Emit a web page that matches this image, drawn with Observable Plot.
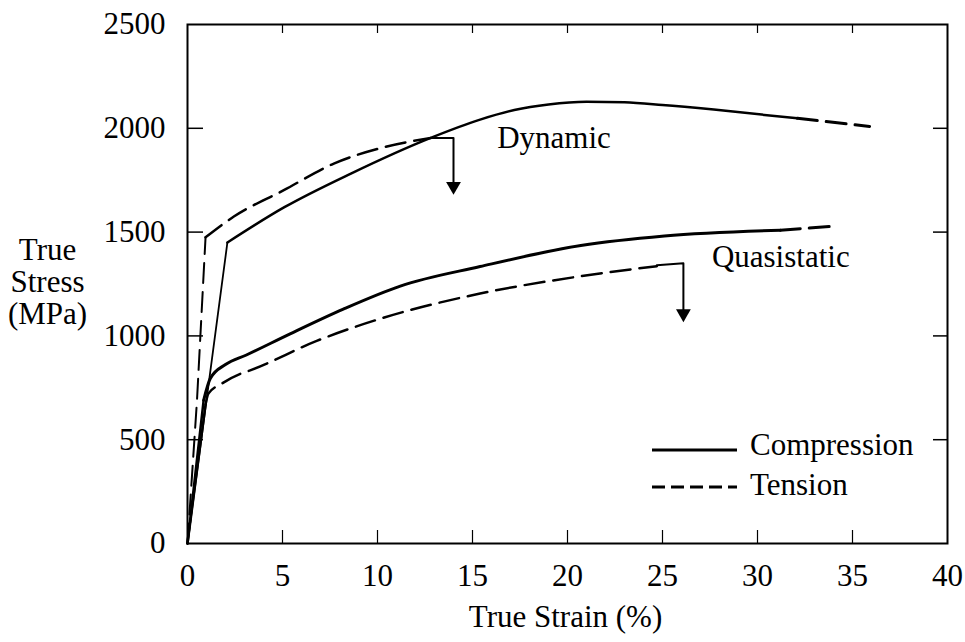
<!DOCTYPE html>
<html>
<head>
<meta charset="utf-8">
<script src="https://cdn.jsdelivr.net/npm/d3@7"></script>
<script src="https://cdn.jsdelivr.net/npm/@observablehq/plot@0.6"></script>
<style>
  html, body { margin: 0; padding: 0; background: #fff; }
  #chart svg, #chart svg text, #chart svg tspan, #chart svg g {
    font-family: "Liberation Serif", "Times New Roman", serif !important;
  }
</style>
</head>
<body>
<div id="chart"></div>
<script>
// ---- Data (True Strain %, True Stress MPa) ----
// Dynamic compression
const dynCompElasticX = [0, 2.1];
const dynCompElasticY = [0, 1450];
const dynCompX = [2.1, 5.1, 8.6, 12.8, 15.4, 17.2, 19.0, 21.0, 23.0, 25.0, 27.7, 32.1];
const dynCompY = [1450, 1620, 1782, 1954, 2042, 2088, 2115, 2128, 2125, 2112, 2090, 2048];
const dynCompExtX = [32.1, 35.9];
const dynCompExtY = [2048, 2009];
// Dynamic tension
const dynTenElasticX = [0, 0.5, 0.95];
const dynTenElasticY = [0, 690, 1475];
const dynTenX = [0.95, 2.44, 5.07, 7.7, 10.3, 12.8];
const dynTenY = [1475, 1575, 1702, 1830, 1908, 1953];
const dynArrowX = [12.8, 14.0, 14.0];
const dynArrowY = [1953, 1953, 1710];
const dynTipX = [14.0];
const dynTipY = [1682];
// Quasistatic compression
const qsCompElasticX = [0, 0.85];
const qsCompElasticY = [0, 690];
const qsCompX = [0.85, 1.2, 2.0, 3.1, 5.4, 8.2, 11.2, 15.4, 20.7, 25.1, 31.2];
const qsCompY = [690, 795, 862, 908, 1010, 1129, 1240, 1334, 1435, 1481, 1509];
const qsCompExtX = [31.2, 34.2];
const qsCompExtY = [1509, 1530];
// Quasistatic tension
const qsTenElasticX = [0, 0.95];
const qsTenElasticY = [0, 670];
const qsTenX = [0.95, 1.1, 1.8, 2.8, 3.3, 6.8, 10.3, 15.4, 20.3, 24.7];
const qsTenY = [670, 722, 770, 818, 834, 976, 1087, 1204, 1282, 1336];
const qsArrowX = [24.7, 26.1, 26.1];
const qsArrowY = [1340, 1350, 1095];
const qsTipX = [26.1];
const qsTipY = [1069];

// Annotations
const annoText = ["Dynamic", "Quasistatic"];
const annoX = [16.3, 27.6];
const annoY = [1951, 1382];

// Axes
const xTickLabels = [0, 5, 10, 15, 20, 25, 30, 35, 40];
const xInnerTicks = [5, 10, 15, 20, 25, 30, 35];
const yTickLabels = [0, 500, 1000, 1500, 2000, 2500];
const yInnerTicks = [500, 1000, 1500, 2000];
const xTitle = "True Strain (%)";
const yTitle = "True\nStress\n(MPa)";
const legendLabels = ["Compression", "Tension"];

const pts = (xs, ys) => xs.map((x, i) => ({x, y: ys[i]}));

const FONT = "Liberation Serif";
const FS = 31;
const DASH = "20,9";
const SW = 2.5;

const plot = Plot.plot({
  width: 965,
  height: 642,
  marginLeft: 187,
  marginRight: 18,
  marginTop: 24,
  marginBottom: 99,
  style: {fontFamily: FONT, fontSize: FS + "px", background: "#fff", color: "#000"},
  x: {domain: [0, 40]},
  y: {domain: [0, 2500]},
  marks: [
    Plot.frame({stroke: "#000", strokeWidth: 2}),
    // inward ticks
    Plot.axisY({anchor: "left", ticks: yInnerTicks, tickSize: -16, tickFormat: () => "", label: null, strokeWidth: 1.5}),
    Plot.axisY({anchor: "right", ticks: yInnerTicks, tickSize: -15, tickFormat: () => "", label: null, strokeWidth: 1.5}),
    Plot.axisX({anchor: "bottom", ticks: xInnerTicks, tickSize: -13, tickFormat: () => "", label: null, strokeWidth: 1.2}),
    Plot.axisX({anchor: "top", ticks: xInnerTicks, tickSize: -8, tickFormat: () => "", label: null, strokeWidth: 1.2}),
    // tick labels
    Plot.axisY({anchor: "left", ticks: yTickLabels, tickSize: 0, tickPadding: 22, label: null, fontSize: FS, fontFamily: FONT, tickFormat: d => String(d)}),
    Plot.axisX({anchor: "bottom", ticks: xTickLabels, tickSize: 0, tickPadding: 20, label: null, fontSize: FS, fontFamily: FONT, tickFormat: d => String(d)}),
    // titles
    Plot.text([xTitle], {frameAnchor: "bottom", text: d => d, dy: 74, dx: -2, fontSize: FS, fontFamily: FONT, lineAnchor: "middle"}),
    Plot.text([yTitle], {frameAnchor: "left", text: d => d, dx: -140, dy: -2, fontSize: FS, fontFamily: FONT, textAnchor: "middle", lineAnchor: "middle", lineHeight: 1.03}),

    // Dynamic compression
    Plot.line(pts(dynCompElasticX, dynCompElasticY), {x: "x", y: "y", stroke: "#000", strokeWidth: 1.8}),
    Plot.line(pts(dynCompX, dynCompY), {x: "x", y: "y", stroke: "#000", strokeWidth: SW, curve: "monotone-x"}),
    Plot.line(pts(dynCompExtX, dynCompExtY), {x: "x", y: "y", stroke: "#000", strokeWidth: 3, strokeDasharray: DASH}),
    // Dynamic tension
    Plot.line(pts(dynTenElasticX, dynTenElasticY), {x: "x", y: "y", stroke: "#000", strokeWidth: 2, strokeDasharray: DASH}),
    Plot.line(pts(dynTenX, dynTenY), {x: "x", y: "y", stroke: "#000", strokeWidth: SW, strokeDasharray: DASH, curve: "monotone-x"}),
    Plot.line(pts(dynArrowX, dynArrowY), {x: "x", y: "y", stroke: "#000", strokeWidth: 2}),
    Plot.dot(pts(dynTipX, dynTipY), {x: "x", y: "y", symbol: "triangle", r: 5.5, rotate: 180, fill: "#000", dy: -8}),
    // Quasistatic compression
    Plot.line(pts(qsCompElasticX, qsCompElasticY), {x: "x", y: "y", stroke: "#000", strokeWidth: 2.5}),
    Plot.line(pts(qsCompX, qsCompY), {x: "x", y: "y", stroke: "#000", strokeWidth: 3, curve: "monotone-x"}),
    Plot.line(pts(qsCompExtX, qsCompExtY), {x: "x", y: "y", stroke: "#000", strokeWidth: 3, strokeDasharray: DASH}),
    // Quasistatic tension
    Plot.line(pts(qsTenElasticX, qsTenElasticY), {x: "x", y: "y", stroke: "#000", strokeWidth: 2.5}),
    Plot.line(pts(qsTenX, qsTenY), {x: "x", y: "y", stroke: "#000", strokeWidth: SW, strokeDasharray: DASH, curve: "monotone-x"}),
    Plot.line(pts(qsArrowX, qsArrowY), {x: "x", y: "y", stroke: "#000", strokeWidth: 2}),
    Plot.dot(pts(qsTipX, qsTipY), {x: "x", y: "y", symbol: "triangle", r: 5.5, rotate: 180, fill: "#000", dy: -8}),

    // annotations
    Plot.text(annoText.map((t, i) => ({t, x: annoX[i], y: annoY[i]})), {x: "x", y: "y", text: "t", textAnchor: "start", lineAnchor: "middle", fontSize: FS, fontFamily: FONT})
  ]
});

plot.setAttribute("font-family", FONT);
document.getElementById("chart").appendChild(plot);

// Legend (layout in pixels, inside the plot frame, lower right)
const svg = d3.select(plot);
const lg = svg.append("g").attr("text-anchor", "start").attr("font-family", FONT);
const legendRows = [
  {label: legendLabels[0], dash: null, y: 450},
  {label: legendLabels[1], dash: "13,6", y: 487}
];
legendRows.forEach(r => {
  lg.append("line")
    .attr("x1", 652).attr("x2", 737).attr("y1", r.y).attr("y2", r.y)
    .attr("stroke", "#000").attr("stroke-width", 3)
    .attr("stroke-dasharray", r.dash);
  lg.append("text")
    .attr("x", 750).attr("y", r.y + 5 + (r.dash ? 3 : 0))
    .attr("font-size", FS)
    .attr("font-family", FONT)
    .text(r.label);
});
svg.selectAll("text").attr("font-family", FONT);
</script>
</body>
</html>
